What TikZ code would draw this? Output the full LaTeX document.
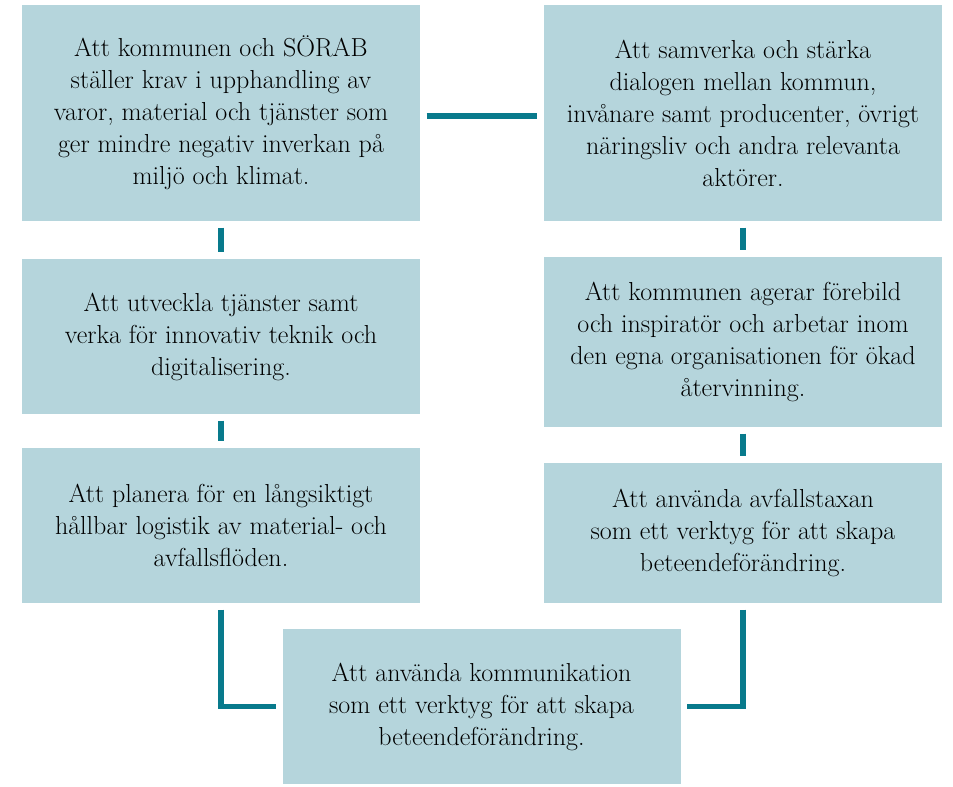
\documentclass[tikz,border=0pt]{standalone}
\usepackage{fontspec}
\usetikzlibrary{calc}
\usetikzlibrary{positioning}
\definecolor{aimfill}{RGB}{181,213,220}
\definecolor{aimline}{RGB}{8,122,140}

\begin{document}
\begin{tikzpicture}
    [%
        x=1pt,%
        y=-1pt,%
        aim box/.style={%
            fill=aimfill,%
            draw=none,%
            align=center,%
            inner sep=0pt,%
            minimum width=398pt,%
            font=\fontsize{26}{32}\selectfont%
        },%
        aim link/.style={%
            draw=aimline,%
            line width=5.5pt,%
            shorten <=6.5pt,%
            shorten >=6.5pt%
        }%
    ]%
    \useasboundingbox (0,0) rectangle (953,787);
%
    % place the aims
    % \name node name
    % \x/\y centre of the box
    % \h height of the box
    \foreach \name/\x/\y/\h/\txt in {%
        krav/221/113/216/{Att kommunen och SÖRAB\\ställer krav i upphandling av\\varor, material och tjänster som\\ger mindre negativ inverkan på\\miljö och klimat.},%
        dialog/743/113/216/{Att samverka och stärka\\dialogen mellan kommun,\\invånare samt producenter, övrigt\\näringsliv och andra relevanta\\aktörer.},%
        digital/221/336.5/155/{Att utveckla tjänster samt\\verka för innovativ teknik och\\digitalisering.},%
        forebild/743/342/170/{Att kommunen agerar förebild\\och inspiratör och arbetar inom\\den egna organisationen för ökad\\återvinning.},%
        logistik/221/525.5/155/{Att planera för en långsiktigt\\hållbar logistik av material- och\\avfallsflöden.},%
        taxa/743/533/140/{Att använda avfallstaxan\\som ett verktyg för att skapa\\beteendeförändring.},%
        kommunikation/481.5/706.5/155/{Att använda kommunikation\\som ett verktyg för att skapa\\beteendeförändring.}%
    }
        \node[aim box, minimum height=\h pt] (\name) at (\x,\y) {\txt};
    % \foreach \name/\x/\y/\h/\txt
%
    % links between the aims
    \draw[aim link] ([yshift=-3pt]krav.east) -- ([yshift=-3pt]dialog.west);
    \foreach \from/\to in {krav/digital,digital/logistik,dialog/forebild,forebild/taxa} {
        \draw[aim link] (\from.south) -- (\to.north);
    } % \foreach \from/\to
    \draw[aim link] (logistik.south) |- (kommunikation.west);
    \draw[aim link] (taxa.south) |- (kommunikation.east);
\end{tikzpicture}
\end{document}
